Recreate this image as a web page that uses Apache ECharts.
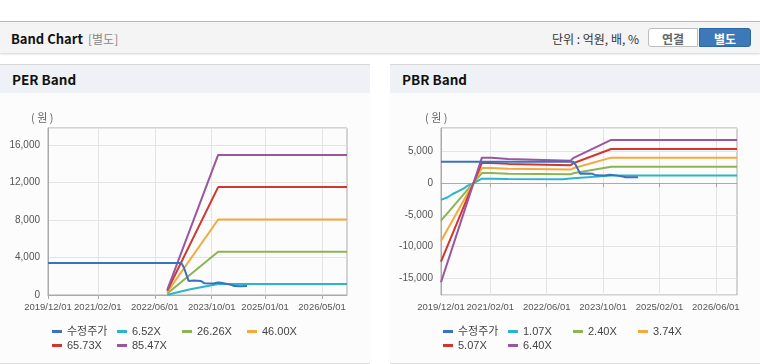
<!DOCTYPE html>
<html>
<head>
<meta charset="utf-8">
<script src="https://cdn.jsdelivr.net/npm/echarts@6/dist/echarts.min.js"></script>
<style>
  body { margin: 0; width: 760px; height: 364px; background: #fff; position: relative; overflow: hidden;
         font-family: "Noto Sans CJK KR", "Liberation Sans", sans-serif; }
  .head { position: absolute; left: 0; top: 21px; width: 760px; height: 31px; background: #f4f4f4;
          border-top: 1px solid #b8b8b8; box-shadow: 0 1px 2px rgba(0,0,0,0.18); }
  .head .ttl { position: absolute; left: 11px; top: 7px; font-size: 13px; font-weight: bold; color: #111; }
  .head .sub { position: absolute; left: 88px; top: 8px; font-size: 12px; color: #888; }
  .head .unit { position: absolute; left: 552px; top: 8px; font-size: 12px; color: #333; }
  .btn { position: absolute; top: 6px; height: 19px; width: 50px; font-size: 12px; font-weight: bold;
         text-align: center; line-height: 19px; box-sizing: border-box; }
  .btn.off { left: 648px; background: #fff; color: #666; border: 1px solid #bdbdbd; border-radius: 3px 0 0 3px; }
  .btn.on { left: 699px; width: 52px; background: #3d78b9; color: #fff; border: 1px solid #2f67a5; border-radius: 0 3px 3px 0; }
  .panel { position: absolute; top: 64px; height: 299px; background: #fcfcfc; border-bottom: 1px solid #dcdcdc; }
  .panel .bar { height: 28px; background: #eef2f7; border-top: 1px solid #d8d8d8; }
  .panel .bar span { position: absolute; left: 12px; top: 5px; font-size: 13.5px; font-weight: bold; color: #111; }
  .chart { position: absolute; top: 92px; width: 370px; height: 270px; }
</style>
</head>
<body>
<div class="head">
  <span class="ttl">Band Chart</span><span class="sub">[별도]</span>
  <span class="unit">단위 : 억원, 배, %</span>
  <div class="btn off">연결</div><div class="btn on">별도</div>
</div>
<div class="panel" style="left:0;width:370px"><div class="bar"><span>PER Band</span></div></div>
<div class="panel" style="left:390px;width:370px"><div class="bar"><span>PBR Band</span></div></div>
<div id="per" class="chart" style="left:0"></div>
<div id="pbr" class="chart" style="left:390px"></div>

<script>
// x values are months counted from 2019/12/01 (84 = 2026/12/01, right edge)
const lastMonth = 84;
const perTickMonths = [0, 14, 30, 46, 61, 77];
const perTickLabels = ['2019/12/01', '2021/02/01', '2022/06/01', '2023/10/01', '2025/01/01', '2026/05/01'];
const pbrTickMonths = [0, 14, 30, 46, 62, 78];
const pbrTickLabels = ['2019/12/01', '2021/02/01', '2022/06/01', '2023/10/01', '2025/02/01', '2026/06/01'];

const lineColors = ['#3a72bd', '#2bb5c8', '#8cb453', '#f4a93b', '#d0372f', '#9a569e'];

// 수정주가 (same in both charts)
const priceLine = [[0, 3400], [37.5, 3400], [38.2, 2900], [39.5, 1500], [41, 1550], [43, 1480], [44, 1250],
  [46.5, 1220], [47.8, 1330], [48.6, 1300], [50, 1200], [51.5, 1080], [52.3, 950], [54, 930], [55.9, 950]];

// PER band
const perNames = ['수정주가', '6.52X', '26.26X', '46.00X', '65.73X', '85.47X'];
const per652 = [[33.5, 30], [40, 620], [47.8, 1180], [84, 1180]];
const per2626 = [[33.5, 150], [47.8, 4600], [84, 4600]];
const per4600 = [[33.5, 300], [45.5, 6800], [47.8, 8050], [84, 8050]];
const per6573 = [[33.5, 450], [47.8, 11500], [84, 11500]];
const per8547 = [[33.5, 550], [47.8, 14930], [84, 14930]];

// PBR band
const pbrNames = ['수정주가', '1.07X', '2.40X', '3.74X', '5.07X', '6.40X'];
const pbr107 = [[0, -2630], [1.9, -2200], [3.3, -1690], [4.7, -1320], [6.2, -900], [7.6, -380], [9.3, 0],
  [11.6, 720], [14.3, 720], [14.4, 680], [19.1, 680], [19.2, 630], [34.5, 630], [34.6, 760], [37.5, 800],
  [48.3, 1200], [84, 1200]];
const pbr240 = [[0, -5900], [11.6, 1600], [14.3, 1600], [14.4, 1500], [19.1, 1500], [19.2, 1400],
  [36.8, 1410], [37.5, 1560], [48.3, 2600], [84, 2600]];
const pbr374 = [[0, -9100], [11.6, 2400], [14.3, 2400], [14.4, 2280], [19.1, 2280], [19.2, 2100],
  [36.8, 2150], [37.5, 2350], [48.3, 4030], [84, 4030]];
const pbr507 = [[0, -12350], [11.6, 3200], [14.3, 3200], [14.4, 3050], [19.1, 3050], [19.2, 2820],
  [36.8, 2850], [37.5, 3150], [48.3, 5400], [84, 5400]];
const pbr640 = [[0, -15600], [11.6, 4030], [14.3, 4030], [14.4, 3830], [19.1, 3830], [19.2, 3540],
  [36.8, 3560], [37.5, 3950], [48.3, 6820], [84, 6820]];

const axisFont = '"Liberation Sans", sans-serif';

function buildOption(cfg) {
  const legends = cfg.names.map((name, i) => ({
    data: [name],
    left: cfg.legendLeft + (i % 4) * 65,
    top: i < 4 ? 234 : 248,
    padding: 0,
    icon: 'rect',
    itemWidth: 10,
    itemHeight: 3,
    selectedMode: false,
    textStyle: { fontSize: 11, color: '#444', fontFamily: '"Liberation Sans", "Noto Sans CJK KR", sans-serif' },
  }));
  return {
    animation: false,
    color: lineColors,
    legend: legends,
    graphic: [{
      type: 'text', left: cfg.unitLeft, top: 20,
      style: { text: '( 원 )', fontSize: 11, fill: '#666', fontFamily: '"Noto Sans CJK KR", sans-serif' },
    }],
    grid: { left: cfg.gridLeft, top: 36, width: cfg.gridWidth, height: 167, show: true,
      borderColor: '#aaa', borderWidth: 1, backgroundColor: 'transparent' },
    xAxis: {
      type: 'value', min: 0, max: lastMonth,
      axisLine: { lineStyle: { color: '#aaa' } },
      axisTick: { customValues: cfg.tickMonths, length: 4, lineStyle: { color: '#aaa' } },
      axisLabel: {
        customValues: cfg.tickMonths, margin: 7, color: '#555', fontSize: 9.5, fontFamily: axisFont,
        showMinLabel: true, hideOverlap: false,
        formatter: (v) => cfg.tickLabels[cfg.tickMonths.indexOf(Math.round(v))] || '',
      },
      splitLine: { show: true, lineStyle: { color: '#e4e4e4' } },
    },
    yAxis: Object.assign({
      type: 'value',
      axisLine: { show: true, lineStyle: { color: '#aaa' } },
      axisTick: { show: false },
      axisLabel: { margin: 8, color: '#555', fontSize: 10, fontFamily: axisFont, showMinLabel: cfg.showMin, showMaxLabel: false },
      splitLine: { show: true, lineStyle: { color: '#e4e4e4' } },
    }, cfg.yRange),
    series: cfg.data.map((d, i) => ({
      name: cfg.names[i], type: 'line', data: d, symbol: 'none', z: i === 0 ? 4 : 2,
      lineStyle: { width: 2 },
    })),
  };
}

const perChart = echarts.init(document.getElementById('per'), null, { renderer: 'canvas' });
perChart.setOption(buildOption({
  names: perNames,
  data: [priceLine, per652, per2626, per4600, per6573, per8547],
  tickMonths: perTickMonths, tickLabels: perTickLabels,
  gridLeft: 48, gridWidth: 299, legendLeft: 52, unitLeft: 31,
  yRange: { min: 0, max: 17800, interval: 4000 }, showMin: true,
}));

const pbrChart = echarts.init(document.getElementById('pbr'), null, { renderer: 'canvas' });
pbrChart.setOption(buildOption({
  names: pbrNames,
  data: [priceLine, pbr107, pbr240, pbr374, pbr507, pbr640],
  tickMonths: pbrTickMonths, tickLabels: pbrTickLabels,
  gridLeft: 51, gridWidth: 296, legendLeft: 53, unitLeft: 35,
  yRange: { min: -17600, max: 8700, splitNumber: 5 }, showMin: false,
}));
</script>
</body>
</html>
